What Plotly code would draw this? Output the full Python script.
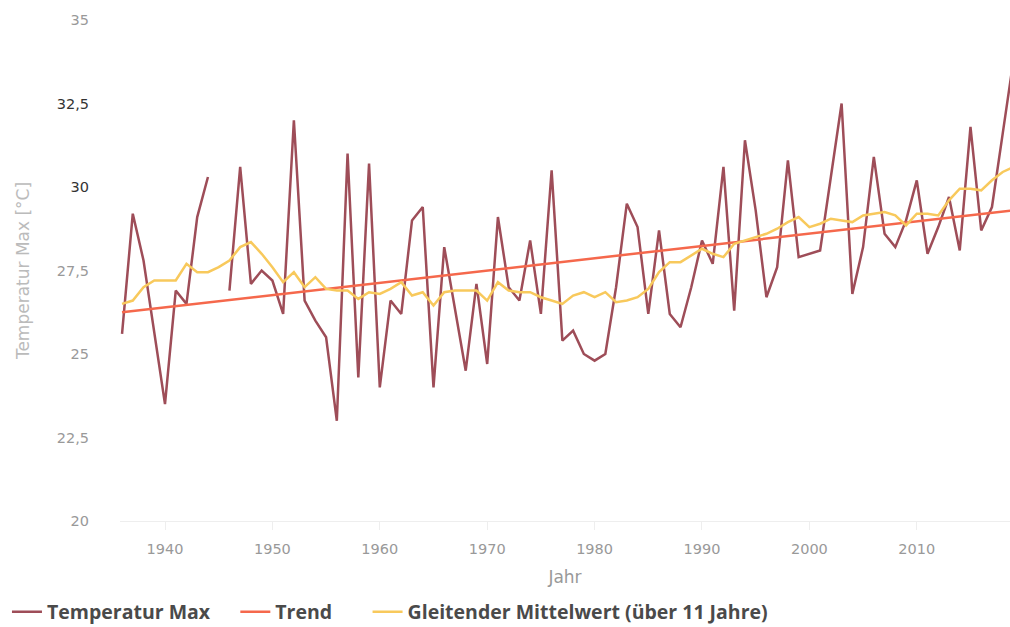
import plotly.graph_objects as go

years = list(range(1936, 2020))

temp_max = [25.6, 29.2, 27.8, 25.7, 23.5, 26.9, 26.5, 29.1, 30.3, None,
            26.9, 30.6, 27.1, 27.5, 27.2, 26.2, 32.0, 26.6, 26.0, 25.5,
            23.0, 31.0, 24.3, 30.7, 24.0, 26.6, 26.2, 29.0, 29.4, 24.0,
            28.2, 26.3, 24.5, 27.1, 24.7, 29.1, 27.0, 26.6, 28.4, 26.2,
            30.5, 25.4, 25.7, 25.0, 24.8, 25.0, 27.0, 29.5, 28.8, 26.2,
            28.7, 26.2, 25.8, 27.0, 28.4, 27.7, 30.6, 26.3, 31.4, 29.3,
            26.7, 27.6, 30.8, 27.9, 28.0, 28.1, 30.3, 32.5, 26.8, 28.2,
            30.9, 28.6, 28.2, 29.0, 30.2, 28.0, 28.8, 29.7, 28.1, 31.8,
            28.7, 29.4, 31.6, 33.8]

moving_avg = [26.5, 26.6, 27.0, 27.2, 27.2, 27.2, 27.7, 27.45, 27.45, 27.6,
              27.8, 28.2, 28.35, 28.0, 27.6, 27.15, 27.45, 27.0, 27.3, 26.95,
              26.9, 26.9, 26.65, 26.85, 26.8, 26.95, 27.15, 26.75, 26.85, 26.45,
              26.85, 26.9, 26.9, 26.9, 26.6, 27.15, 26.9, 26.85, 26.85, 26.7,
              26.6, 26.5, 26.75, 26.85, 26.7, 26.85, 26.55, 26.6, 26.7, 26.95,
              27.45, 27.75, 27.75, 27.95, 28.15, 28.0, 27.9, 28.3, 28.4, 28.5,
              28.6, 28.75, 28.95, 29.1, 28.8, 28.9, 29.05, 29.0, 28.95, 29.15,
              29.2, 29.25, 29.15, 28.85, 29.2, 29.2, 29.15, 29.6, 29.95, 29.95,
              29.9, 30.2, 30.45, 30.6]

trend_years = [1936, 2019]
trend_vals = [26.25, 29.3]

y_tick_vals = [20, 22.5, 25, 27.5, 30, 32.5, 35]
y_tick_text = ["20", "22,5", "25", "27,5",
               "<span style='color:#333'>30</span>",
               "<span style='color:#333'>32,5</span>", "35"]
x_tick_vals = [1940, 1950, 1960, 1970, 1980, 1990, 2000, 2010]

series_names = ["<b>Temperatur Max</b>\u00a0\u00a0\u00a0\u00a0",
                "<b>Trend</b>\u00a0\u00a0\u00a0\u00a0\u00a0\u00a0",
                "<b>Gleitender Mittelwert (über 11 Jahre)</b>"]

axis_font = "DejaVu Sans, sans-serif"
legend_font = "Open Sans, sans-serif"

fig = go.Figure()
fig.add_trace(go.Scatter(x=years, y=temp_max, mode="lines", name=series_names[0],
                         line=dict(color="#9e4d58", width=2.5), connectgaps=False))
fig.add_trace(go.Scatter(x=trend_years, y=trend_vals, mode="lines", name=series_names[1],
                         line=dict(color="#f5684c", width=2.5)))
fig.add_trace(go.Scatter(x=years, y=moving_avg, mode="lines", name=series_names[2],
                         line=dict(color="#f8c95c", width=2.5)))

fig.update_layout(
    width=1010, height=627,
    margin=dict(l=120, r=0, t=20, b=106, autoexpand=False),
    paper_bgcolor="white", plot_bgcolor="white",
    font=dict(family=axis_font, color="#999999", size=14),
    showlegend=True,
    legend=dict(orientation="h", x=-0.127, xanchor="left", xref="paper",
                y=-0.182, yanchor="middle",
                font=dict(size=19.5, color="#4a4a4a", family=legend_font),
                itemwidth=30, tracegroupgap=0),
    xaxis=dict(range=[1935.81, 2018.68], tickvals=x_tick_vals,
               showgrid=False, zeroline=False,
               showline=True, linecolor="#eeeeee", linewidth=1,
               ticks="outside", ticklen=8, tickcolor="#eeeeee",
               ticklabelstandoff=7,
               tickfont=dict(size=14.5, color="#999999", family=axis_font),
               title=dict(text="Jahr", font=dict(size=17, color="#999999", family=axis_font), standoff=14)),
    yaxis=dict(range=[20, 35], tickvals=y_tick_vals, ticktext=y_tick_text,
               showgrid=False, zeroline=False, showline=False,
               ticklabelstandoff=30,
               tickfont=dict(size=14.5, color="#999999", family=axis_font),
               title=dict(text="Temperatur Max [°C]", font=dict(size=17, color="#bbbbbb", family=axis_font), standoff=22)),
)

fig.write_html("out.html", config={"displayModeBar": False},
               post_script="document.body.style.margin='0';")
